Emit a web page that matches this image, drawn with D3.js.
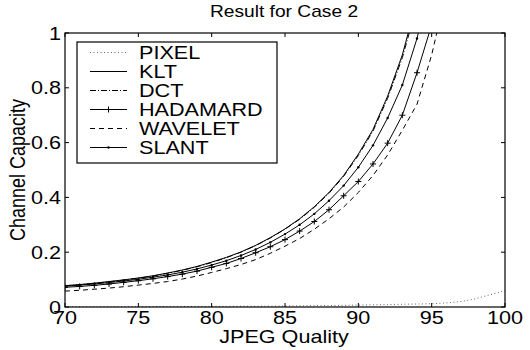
<!DOCTYPE html>
<html>
<head>
<meta charset="utf-8">
<script src="https://cdn.jsdelivr.net/npm/d3@7"></script>
<style>
  body { margin: 0; background: #fff; }
  text { font-family: "Liberation Sans", Arial, sans-serif; fill: #000; }
</style>
</head>
<body>
<svg id="chart" width="530" height="350"></svg>
<script>
// JPEG quality values (x)
const quality = [70, 71, 72, 73, 74, 75, 76, 77, 78, 79, 80, 81, 82, 83, 84, 85,
  86, 87, 88, 89, 90, 91, 92, 93, 94, 95, 96, 97, 98, 99, 100]

const pixel = [0.001, 0.001, 0.001, 0.001, 0.001, 0.001, 0.002, 0.002, 0.002, 0.002, 0.002,
  0.002, 0.003, 0.003, 0.003, 0.004, 0.004, 0.005, 0.005, 0.006, 0.007, 0.008, 0.009,
  0.010, 0.011, 0.012, 0.015, 0.020, 0.030, 0.045, 0.060]
const klt = [0.078, 0.082, 0.087, 0.093, 0.099, 0.106, 0.114, 0.124, 0.135, 0.148, 0.164,
  0.181, 0.201, 0.225, 0.253, 0.285, 0.322, 0.366, 0.418, 0.480, 0.558, 0.648, 0.770,
  0.920, 1.12, 1.40]
const dct = [0.077, 0.081, 0.086, 0.092, 0.098, 0.105, 0.113, 0.123, 0.134, 0.147, 0.162,
  0.180, 0.200, 0.224, 0.252, 0.284, 0.320, 0.364, 0.415, 0.477, 0.553, 0.642, 0.762,
  0.910, 1.10, 1.38]
const hadamard = [0.072, 0.075, 0.079, 0.084, 0.090, 0.096, 0.103, 0.111, 0.120, 0.131,
  0.145, 0.159, 0.177, 0.198, 0.220, 0.246, 0.277, 0.312, 0.355, 0.406, 0.458, 0.522,
  0.598, 0.700, 0.855, 1.03, 1.30]
const wavelet = [0.058, 0.061, 0.065, 0.069, 0.074, 0.080, 0.086, 0.093, 0.102, 0.113,
  0.126, 0.140, 0.155, 0.173, 0.196, 0.222, 0.250, 0.284, 0.322, 0.365, 0.418, 0.480,
  0.555, 0.645, 0.740, 0.920, 1.15]
const slant = [0.076, 0.080, 0.084, 0.089, 0.095, 0.101, 0.109, 0.117, 0.127, 0.139, 0.153,
  0.169, 0.188, 0.210, 0.236, 0.266, 0.300, 0.340, 0.388, 0.443, 0.510, 0.590, 0.690,
  0.810, 0.980, 1.20]

const xTicks = [70, 75, 80, 85, 90, 95, 100]
const yTicks = [0, 0.2, 0.4, 0.6, 0.8, 1]

const series = [
  { name: 'PIXEL', values: pixel, dash: '1,2.5', color: '#666', marker: null },
  { name: 'KLT', values: klt, dash: null, color: '#000', marker: null },
  { name: 'DCT', values: dct, dash: '6,2,1,2', color: '#000', marker: null },
  { name: 'HADAMARD', values: hadamard, dash: null, color: '#000', marker: 'plus' },
  { name: 'WAVELET', values: wavelet, dash: '5,4', color: '#000', marker: null },
  { name: 'SLANT', values: slant, dash: null, color: '#000', marker: 'dot' }
]

const sx = 1.2   // horizontal stretch of the original figure's text
const plotL = 65, plotR = 505, plotT = 33, plotB = 307

const svg = d3.select('#chart')

const x = d3.scaleLinear().domain([70, 100]).range([plotL, plotR])
const y = d3.scaleLinear().domain([0, 1]).range([plotB, plotT])

svg.append('clipPath').attr('id', 'clip')
  .append('rect')
  .attr('x', plotL).attr('y', plotT)
  .attr('width', plotR - plotL).attr('height', plotB - plotT)

// stretched text helper
const label = function (g, tx, ty, str, size, anchor, rot) {
  return g.append('text')
    .attr('transform', `translate(${tx},${ty}) scale(${sx},1)` + (rot ? ` rotate(${rot})` : ''))
    .attr('text-anchor', anchor)
    .style('font-size', size + 'px')
    .text(str)
}

// curves
const plot = svg.append('g').attr('clip-path', 'url(#clip)')
const line = d3.line()
  .x((d, i) => x(quality[i]))
  .y(d => y(d))

series.forEach(s => {
  plot.append('path')
    .datum(s.values)
    .attr('d', line)
    .attr('fill', 'none')
    .attr('stroke', s.color)
    .attr('stroke-width', 1)
    .attr('stroke-dasharray', s.dash)

  if (s.marker == 'plus') {
    plot.selectAll(null).data(s.values).enter().append('path')
      .attr('d', (d, i) => {
        const px = x(quality[i]), py = y(d)
        return `M${px - 3},${py}H${px + 3}M${px},${py - 3}V${py + 3}`
      })
      .attr('stroke', '#000').attr('stroke-width', 1)
  }
  else if (s.marker == 'dot') {
    plot.selectAll(null).data(s.values).enter().append('circle')
      .attr('cx', (d, i) => x(quality[i]))
      .attr('cy', d => y(d))
      .attr('r', 1.2)
      .attr('fill', '#000')
  }
})

// axes box, inward ticks on all four sides
const tickLen = 4
const axes = svg.append('g')
axes.append('rect')
  .attr('x', plotL).attr('y', plotT)
  .attr('width', plotR - plotL).attr('height', plotB - plotT)
  .attr('fill', 'none').attr('stroke', '#000').attr('stroke-width', 1.2)

xTicks.forEach(t => {
  axes.append('line').attr('x1', x(t)).attr('x2', x(t))
    .attr('y1', plotB).attr('y2', plotB - tickLen).attr('stroke', '#000')
  axes.append('line').attr('x1', x(t)).attr('x2', x(t))
    .attr('y1', plotT).attr('y2', plotT + tickLen).attr('stroke', '#000')
  label(axes, x(t), 324, String(t), 18, 'middle')
})

yTicks.forEach(t => {
  axes.append('line').attr('x1', plotL).attr('x2', plotL + tickLen)
    .attr('y1', y(t)).attr('y2', y(t)).attr('stroke', '#000')
  axes.append('line').attr('x1', plotR).attr('x2', plotR - tickLen)
    .attr('y1', y(t)).attr('y2', y(t)).attr('stroke', '#000')
  label(axes, 61, y(t) + 6.5, String(t), 18, 'end')
})

// titles
label(svg, 284, 17, 'Result for Case 2', 16, 'middle')
label(svg, 284, 343, 'JPEG Quality', 18, 'middle')
label(svg, 25, 170, 'Channel Capacity', 18, 'middle', -90)

// legend
const lg = svg.append('g')
lg.append('rect')
  .attr('x', 77).attr('y', 42).attr('width', 200).attr('height', 121)
  .attr('fill', '#fff').attr('stroke', '#000').attr('stroke-width', 1.2)

series.forEach((s, i) => {
  const ly = 52.5 + i * 19
  lg.append('line')
    .attr('x1', 90).attr('x2', 127).attr('y1', ly).attr('y2', ly)
    .attr('stroke', s.color).attr('stroke-width', 1)
    .attr('stroke-dasharray', s.dash)
  if (s.marker == 'plus') {
    lg.append('path').attr('d', `M105.5,${ly}H111.5M108.5,${ly - 3}V${ly + 3}`)
      .attr('stroke', '#000')
  }
  else if (s.marker == 'dot') {
    lg.append('circle').attr('cx', 108.5).attr('cy', ly).attr('r', 1.2).attr('fill', '#000')
  }
  label(lg, 139, ly + 6.5, s.name, 18, 'start')
})
</script>
</body>
</html>
